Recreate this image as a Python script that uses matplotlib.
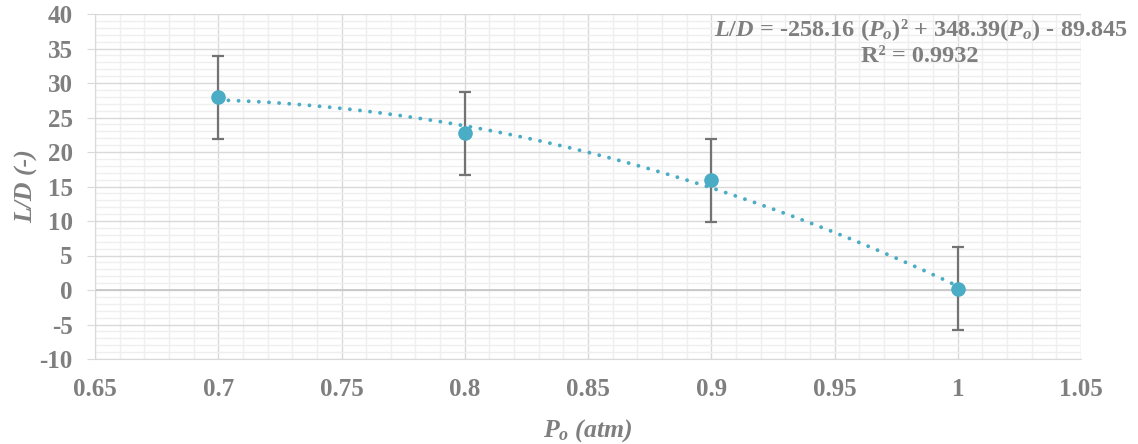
import numpy as np
import matplotlib.pyplot as plt
from matplotlib.ticker import MultipleLocator

# data
po = [0.7, 0.8, 0.9, 1.0]
ld = [27.9, 22.7, 15.9, 0.2]
ld_err = [6.0, 6.0, 6.0, 6.0]

eq_text = r'$\mathit{L/D}$ = -258.16 ($\mathit{P_o}$)² + 348.39($\mathit{P_o}$) - 89.845'
r2_text = 'R² = 0.9932'

gray = '#7f7f7f'
blue = '#4bacc6'

plt.rcParams['font.family'] = ['Liberation Serif', 'DejaVu Serif']
plt.rcParams['axes.unicode_minus'] = False
plt.rcParams['mathtext.fontset'] = 'custom'
plt.rcParams['mathtext.rm'] = 'Liberation Serif:bold'
plt.rcParams['mathtext.it'] = 'Liberation Serif:bold:italic'
plt.rcParams['mathtext.bf'] = 'Liberation Serif:bold'

fig = plt.figure(figsize=(11.38, 4.44), dpi=100)
ax = fig.add_axes([95 / 1138, 1 - 359 / 444, (1081 - 95) / 1138, (359 - 14) / 444])

ax.set_xlim(0.65, 1.05)
ax.set_ylim(-10, 40)
ax.xaxis.set_major_locator(MultipleLocator(0.05))
ax.xaxis.set_minor_locator(MultipleLocator(0.01))
ax.yaxis.set_major_locator(MultipleLocator(5))
ax.yaxis.set_minor_locator(MultipleLocator(1))
ax.grid(which='minor', color='#efefef', lw=1.0)
ax.grid(which='major', color='#d9d9d9', lw=1.0)
ax.set_axisbelow(True)
ax.axhline(0, color='#c8c8c8', lw=1.3, zorder=1)
for s in ax.spines.values():
    s.set_visible(False)
ax.spines['left'].set_visible(True)
ax.spines['left'].set_color('#d9d9d9')
ax.spines['bottom'].set_visible(True)
ax.spines['bottom'].set_color('#d9d9d9')

ax.tick_params(axis='y', which='major', length=6, color='#d9d9d9', labelsize=18,
               labelcolor=gray, pad=10)
ax.tick_params(axis='x', which='major', length=0, labelsize=18, labelcolor=gray, pad=14)
ax.tick_params(which='minor', length=0)
ax.set_xticklabels([f'{v:g}' for v in ax.get_xticks()])
for lab in ax.get_xticklabels() + ax.get_yticklabels():
    lab.set_fontweight('bold')

# trendline (2nd order polynomial fit)
coef = np.polyfit(po, ld, 2)
xs = np.linspace(po[0], po[-1], 200)
ax.plot(xs, np.polyval(coef, xs), color=blue, lw=2.8, ls=(0, (0.01, 2.6)),
        dash_capstyle='round', zorder=3)

ax.errorbar(po, ld, yerr=ld_err, fmt='none', ecolor='#737373', elinewidth=1.6,
            capsize=4.5, capthick=1.6, zorder=4)
ax.plot(po, ld, 'o', color=blue, ms=9.5, zorder=5)

ax.set_xlabel(r'$\mathit{P_o}$ (atm)', fontsize=18.5, color=gray, fontweight='bold',
              fontstyle='italic', labelpad=11)
ax.set_ylabel('L/D (-)', fontsize=18.5, color=gray, fontweight='bold', fontstyle='italic',
              labelpad=1)

fig.text(1128 / 1138, 1 - 30 / 444, eq_text, ha='right', va='center', fontsize=17.5,
         color=gray, fontweight='bold')
fig.text(920 / 1138, 1 - 56 / 444, r2_text, ha='center', va='center', fontsize=17.5,
         color=gray, fontweight='bold')

fig.savefig('out.png', dpi=100)
